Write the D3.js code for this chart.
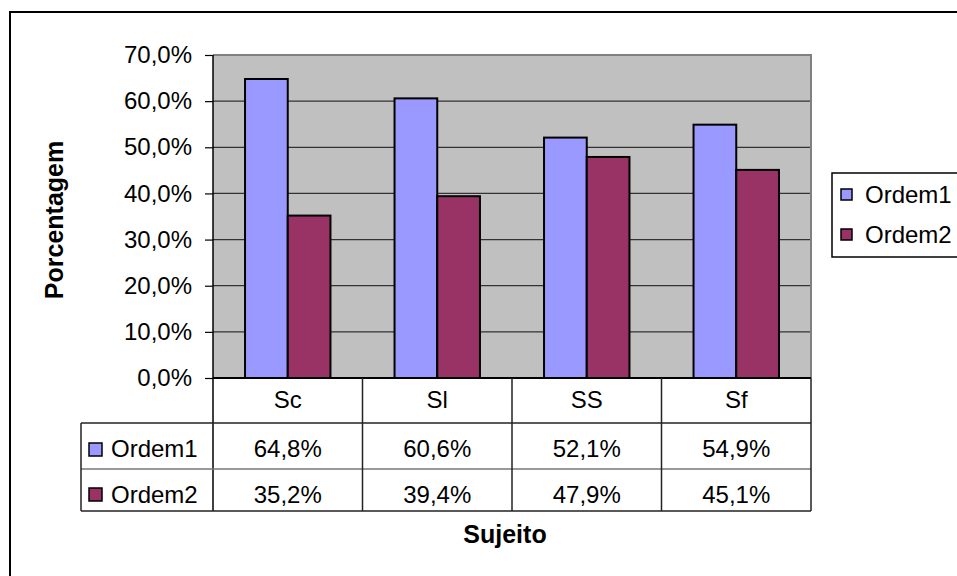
<!DOCTYPE html>
<html>
<head>
<meta charset="utf-8">
<script src="https://cdn.jsdelivr.net/npm/d3@7"></script>
<style>
  body { margin: 0; background: #fff; }
  svg { display: block; font-family: "Liberation Sans", Arial, sans-serif; }
</style>
</head>
<body>
<svg id="chart" width="957" height="576"></svg>
<script>

// Data
// ==============================================

var categories = ["Sc", "Sl", "SS", "Sf"],
	seriesNames = ["Ordem1", "Ordem2"],
	ordem1 = [0.648, 0.606, 0.521, 0.549],
	ordem2 = [0.352, 0.394, 0.479, 0.451],
	yTicks = [0, 0.1, 0.2, 0.3, 0.4, 0.5, 0.6, 0.7];

var seriesValues = [ordem1, ordem2],
	colors = ["#9999ff", "#993366"];

// Layout
// ==============================================

var plot = { left: 213, right: 811, top: 55, bottom: 378 },
	table = { left: 81, row0: 423, row1: 469, bottom: 511 },
	fontSize = 24;

var svg = d3.select("#chart");

var pct = function(v){ return d3.format(".1%")(v).replace(".", ","); };

var x0 = d3.scaleBand()
	.domain(categories)
	.range([plot.left, plot.right])
	.paddingInner(0)
	.paddingOuter(0);

var x1 = d3.scaleBand()
	.domain(seriesNames)
	.range([0, x0.bandwidth()])
	.paddingInner(0)
	.paddingOuter(0.75);

var y = d3.scaleLinear()
	.domain([0, 0.7])
	.range([plot.bottom, plot.top]);

// Outer border
svg.append("rect")
	.attr("x", 10).attr("y", 12)
	.attr("width", 970).attr("height", 600)
	.attr("fill", "#fff")
	.attr("stroke", "#000")
	.attr("stroke-width", 2);

// Plot area
// ==============================================

svg.append("rect")
	.attr("x", plot.left).attr("y", plot.top)
	.attr("width", plot.right - plot.left)
	.attr("height", plot.bottom - plot.top)
	.attr("fill", "#c0c0c0");

svg.append("g")
	.selectAll("line")
	.data(yTicks.filter(function(d){ return d > 0 && d < 0.7; }))
	.enter().append("line")
		.attr("x1", plot.left).attr("x2", plot.right)
		.attr("y1", function(d){ return y(d); })
		.attr("y2", function(d){ return y(d); })
		.attr("stroke", "#333")
		.attr("stroke-width", 1.3);

// top and right border of the plot area
svg.append("path")
	.attr("d", "M" + plot.left + "," + plot.top + "H" + plot.right + "V" + plot.bottom)
	.attr("fill", "none")
	.attr("stroke", "#808080")
	.attr("stroke-width", 2);

// Bars
// ==============================================

var groups = svg.append("g")
	.selectAll("g")
	.data(categories)
	.enter().append("g")
		.attr("transform", function(d){ return "translate(" + x0(d) + ",0)"; });

groups.selectAll("rect")
	.data(function(d, i){
		return seriesNames.map(function(s, j){ return { key: s, value: seriesValues[j][i], color: colors[j] }; });
	})
	.enter().append("rect")
		.attr("x", function(d){ return x1(d.key); })
		.attr("y", function(d){ return y(d.value); })
		.attr("width", x1.bandwidth())
		.attr("height", function(d){ return y(0) - y(d.value); })
		.attr("fill", function(d){ return d.color; })
		.attr("stroke", "#000")
		.attr("stroke-width", 2);

// Y axis
// ==============================================

var yAxis = d3.axisLeft(y)
	.tickValues(yTicks)
	.tickSize(8)
	.tickPadding(13)
	.tickFormat(pct);

var axisG = svg.append("g")
	.attr("transform", "translate(" + plot.left + ",0)")
	.call(yAxis);

axisG.select(".domain").attr("stroke", "#000").attr("stroke-width", 1.5)
	.attr("d", "M0," + plot.top + "V" + table.bottom);
axisG.selectAll(".tick line").attr("stroke", "#000").attr("stroke-width", 1.2);
axisG.selectAll(".tick text")
	.attr("font-family", "Liberation Sans, Arial, sans-serif")
	.attr("font-size", fontSize)
	.attr("fill", "#000");

// Data table
// ==============================================

var tg = svg.append("g");

// horizontal lines
tg.append("line")
	.attr("x1", plot.left).attr("x2", plot.right)
	.attr("y1", plot.bottom).attr("y2", plot.bottom)
	.attr("stroke", "#000").attr("stroke-width", 2);

[table.row0, table.row1, table.bottom].forEach(function(yy, i){
	tg.append("line")
		.attr("x1", table.left).attr("x2", plot.right)
		.attr("y1", yy).attr("y2", yy)
		.attr("stroke", i === 1 ? "#777" : "#222")
		.attr("stroke-width", 1.5);
});

// vertical lines
tg.append("line")
	.attr("x1", table.left).attr("x2", table.left)
	.attr("y1", table.row0).attr("y2", table.bottom)
	.attr("stroke", "#222").attr("stroke-width", 1.5);

tg.selectAll("line.col")
	.data(categories.slice(1).map(function(c){ return x0(c); }).concat([plot.right]))
	.enter().append("line")
		.attr("class", "col")
		.attr("x1", function(d){ return d; }).attr("x2", function(d){ return d; })
		.attr("y1", plot.bottom).attr("y2", table.bottom)
		.attr("stroke", "#222").attr("stroke-width", 1.5);

// category header
tg.selectAll("text.cat")
	.data(categories)
	.enter().append("text")
		.attr("class", "cat")
		.attr("x", function(d){ return x0(d) + x0.bandwidth() / 2; })
		.attr("y", 408)
		.attr("text-anchor", "middle")
		.attr("font-size", fontSize)
		.text(function(d){ return d; });

var rowBaselines = [457, 503],
	rowSwatchY = [443, 488];

seriesNames.forEach(function(s, j){
	tg.append("rect")
		.attr("x", 89).attr("y", rowSwatchY[j])
		.attr("width", 13).attr("height", 13)
		.attr("fill", colors[j])
		.attr("stroke", "#000").attr("stroke-width", 1.5);

	tg.append("text")
		.attr("x", 111).attr("y", rowBaselines[j])
		.attr("font-size", fontSize)
		.text(s);

	tg.selectAll("text.v" + j)
		.data(seriesValues[j])
		.enter().append("text")
			.attr("class", "v" + j)
			.attr("x", function(d, i){ return x0(categories[i]) + x0.bandwidth() / 2; })
			.attr("y", rowBaselines[j])
			.attr("text-anchor", "middle")
			.attr("font-size", fontSize)
			.text(pct);
});

// Axis titles
// ==============================================

svg.append("text")
	.attr("x", 505).attr("y", 543)
	.attr("text-anchor", "middle")
	.attr("font-size", 25)
	.attr("font-weight", "bold")
	.text("Sujeito");

svg.append("text")
	.attr("transform", "translate(63,220) rotate(-90)")
	.attr("text-anchor", "middle")
	.attr("font-size", 25)
	.attr("font-weight", "bold")
	.text("Porcentagem");

// Legend
// ==============================================

var lg = svg.append("g");

lg.append("rect")
	.attr("x", 832).attr("y", 173)
	.attr("width", 140).attr("height", 84)
	.attr("fill", "#fff")
	.attr("stroke", "#000").attr("stroke-width", 1.5);

seriesNames.forEach(function(s, j){
	lg.append("rect")
		.attr("x", 841).attr("y", 189 + j * 40)
		.attr("width", 11).attr("height", 11)
		.attr("fill", colors[j])
		.attr("stroke", "#000").attr("stroke-width", 1.5);

	lg.append("text")
		.attr("x", 865).attr("y", 203 + j * 40)
		.attr("font-size", fontSize)
		.text(s);
});

</script>
</body>
</html>
